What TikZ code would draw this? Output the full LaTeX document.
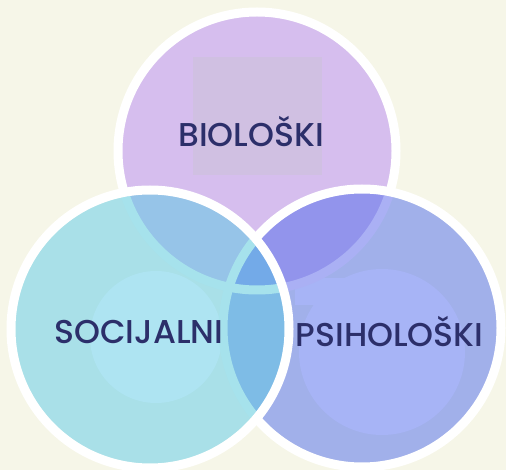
\documentclass[tikz,border=0pt]{standalone}
\usepackage{fontspec}
\setmainfont{Poppins}[UprightFont=* Medium]
\usepackage{tikz}
\usetikzlibrary{positioning}

\definecolor{paper}{RGB}{246,246,232}
\definecolor{bioC}{RGB}{214,190,238}
\definecolor{bioBox}{RGB}{208,192,226}
\definecolor{psiC}{RGB}{161,176,234}
\definecolor{psiIn}{RGB}{167,180,246}
\definecolor{socC}{RGB}{169,224,232}
\definecolor{socIn}{RGB}{174,228,242}
\definecolor{bioPsi}{RGB}{146,148,236}
\definecolor{bioSoc}{RGB}{150,196,232}
\definecolor{socPsi}{RGB}{126,188,230}
\definecolor{allC}{RGB}{115,170,232}
\definecolor{psiRing}{RGB}{170,176,244}
\definecolor{socRing}{RGB}{166,226,236}
\definecolor{navy}{RGB}{44,47,106}

\tikzset{
  ring/.style={draw=white,line width=9pt},
  hidring/.style={line width=9pt},
  lbl/.style={font=\fontsize{33}{33}\selectfont,text=navy,inner sep=0pt}
}

\begin{document}
\begin{tikzpicture}[x=1pt,y=-1pt]

  \fill[paper] (0,0) rectangle (506,470);
  \useasboundingbox (0,0) rectangle (506,470);

  \coordinate (bio) at (257,151);
  \coordinate (psi) at (362,328);
  \coordinate (soc) at (150,329);

  % biological circle
  \fill[bioC] (bio) circle (139pt);
  \fill[bioBox] (193,57) rectangle (322,175);
  \draw[ring] (bio) circle (139pt);

  % psychological circle
  \begin{scope}
    \clip (psi) circle (139pt);
    \fill[psiC] (psi) circle (139pt);
    \fill[psiIn] (382,352) circle (83pt);
    \fill[psiIn] (295,278) rectangle (400,305);
    \clip (bio) circle (139pt);
    \fill[bioPsi] (psi) circle (139pt);
  \end{scope}
  \begin{scope}
    \clip (psi) circle (134.5pt);
    \draw[hidring,draw=psiRing] (bio) circle (139pt);
  \end{scope}
  \draw[ring] (psi) circle (139pt);

  % social circle
  \begin{scope}
    \clip (soc) circle (139pt);
    \fill[socC] (soc) circle (139pt);
    \fill[socIn] (156,337) circle (66pt);
    \begin{scope}
      \clip (bio) circle (139pt);
      \fill[bioSoc] (soc) circle (139pt);
    \end{scope}
    \begin{scope}
      \clip (psi) circle (139pt);
      \fill[socPsi] (soc) circle (139pt);
      \clip (bio) circle (139pt);
      \fill[allC] (soc) circle (139pt);
    \end{scope}
  \end{scope}
  \begin{scope}
    \clip (soc) circle (134.5pt);
    \draw[hidring,draw=socRing] (bio) circle (139pt);
    \draw[hidring,draw=socRing] (psi) circle (139pt);
  \end{scope}
  \draw[ring] (soc) circle (139pt);

  % labels
  \node[lbl] (bioText) at (251,131.5) {BIOLOŠKI};
  \node[lbl] (socText) at (139,331.5) {SOCIJALNI};
  \node[lbl] (psiText) at (389.5,331.5) {PSIHOLOŠKI};

\end{tikzpicture}
\end{document}
